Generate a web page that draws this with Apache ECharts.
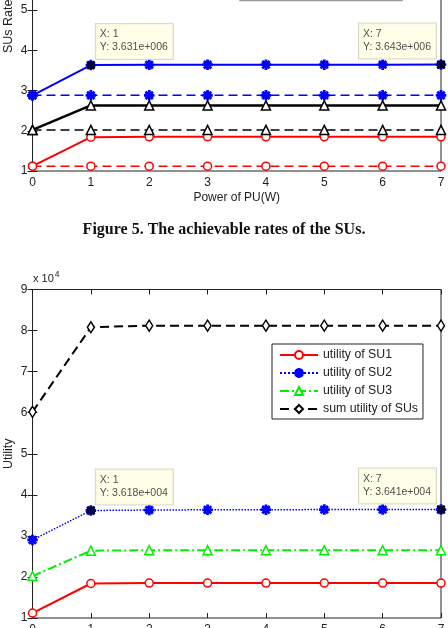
<!DOCTYPE html>
<html>
<head>
<meta charset="utf-8">
<script src="https://cdn.jsdelivr.net/npm/echarts@6/dist/echarts.min.js"></script>
<style>
html, body { margin: 0; padding: 0; background: #fff; }
#main { width: 448px; height: 628px; }
</style>
</head>
<body>
<div id="main"></div>
<script>
var powerPU = [0, 1, 2, 3, 4, 5, 6, 7];

// Figure 5: rates (x 10^6)
var rateSU1 = [1.12, 1.84, 1.85, 1.85, 1.85, 1.85, 1.85, 1.85];
var rateSU1Eq = [1.12, 1.12, 1.12, 1.12, 1.12, 1.12, 1.12, 1.12];
var rateSU2 = [2.88, 3.631, 3.638, 3.640, 3.641, 3.642, 3.642, 3.643];
var rateSU2Eq = [2.88, 2.88, 2.88, 2.88, 2.88, 2.88, 2.88, 2.88];
var rateSU3 = [2.02, 2.63, 2.63, 2.63, 2.63, 2.63, 2.63, 2.63];
var rateSU3Eq = [2.02, 2.02, 2.02, 2.02, 2.02, 2.02, 2.02, 2.02];

// Figure 6: utility (x 10^4)
var utilNames = ['utility of SU1', 'utility of SU2', 'utility of SU3', 'sum utility of SUs'];
var utilSU1 = [1.12, 1.84, 1.85, 1.85, 1.85, 1.85, 1.85, 1.85];
var utilSU2 = [2.90, 3.618, 3.630, 3.635, 3.638, 3.640, 3.640, 3.641];
var utilSU3 = [2.02, 2.64, 2.65, 2.65, 2.65, 2.65, 2.65, 2.65];
var utilSum = [6.02, 8.08, 8.12, 8.12, 8.12, 8.12, 8.12, 8.12];

// data tips (x positions)
var tipX = [1, 7];

var starPath = 'path://M0,4.3L10,4.3L10,5.7L0,5.7Z M4.3,0L5.7,0L5.7,10L4.3,10Z M1,2L2,1L9,8L8,9Z M8,1L9,2L2,9L1,8Z';
var font = '"Liberation Sans", Arial, sans-serif';
var ink = '#222';

function pairs(ys) {
    return powerPU.map(function (x, i) { return [x, ys[i]]; });
}

function fmtTip(v, e) {
    return v.toFixed(3) + 'e+' + ('00' + e).slice(-3);
}

function tipData(ys) {
    return tipX.map(function (x, i) {
        return {
            value: [x, ys[powerPU.indexOf(x)]],
            label: { position: i === 0 ? [9, -37] : [-78, -37] }
        };
    });
}

function xAx(grid, pos, labels) {
    return {
        type: 'value', gridIndex: grid, position: pos, min: 0, max: 7, interval: 1,
        axisLine: { show: false },
        axisTick: { show: true, inside: true, length: 5, lineStyle: { color: ink } },
        axisLabel: { show: labels, color: ink, fontSize: 12, fontFamily: font, margin: 6 },
        splitLine: { show: false }
    };
}

function yAx(grid, pos, labels) {
    return {
        type: 'value', gridIndex: grid, position: pos, min: 1, max: 9, interval: 1,
        axisLine: { show: false },
        axisTick: { show: true, inside: true, length: 5, lineStyle: { color: ink } },
        axisLabel: { show: labels, color: ink, fontSize: 12, fontFamily: font, margin: 5 },
        splitLine: { show: false }
    };
}

function lineSeries(name, ys, xi, yi, color, width, type, symbol, size, fill) {
    return {
        name: name,
        type: 'line',
        xAxisIndex: xi,
        yAxisIndex: yi,
        data: pairs(ys),
        symbol: symbol,
        symbolSize: size,
        showSymbol: true,
        lineStyle: { color: color, width: width, type: type },
        itemStyle: { color: fill, borderColor: color, borderWidth: 1.5 },
        emphasis: { disabled: true },
        animation: false
    };
}

function tipSeries(ys, xi, yi, e) {
    return {
        type: 'scatter',
        xAxisIndex: xi,
        yAxisIndex: yi,
        symbol: 'rect',
        symbolSize: 8,
        z: 10,
        itemStyle: { color: '#000' },
        data: tipData(ys),
        label: {
            show: true,
            formatter: function (p) {
                return 'X: ' + p.value[0] + '\nY: ' + fmtTip(p.value[1], e);
            },
            color: ink,
            fontSize: 10.5,
            lineHeight: 13,
            fontFamily: font,
            backgroundColor: '#ffffe3',
            borderColor: '#cfcfb8',
            borderWidth: 1,
            padding: [4, 5, 5, 4]
        },
        emphasis: { disabled: true },
        animation: false
    };
}

var myChart = echarts.init(document.getElementById('main'));

option = {
    backgroundColor: '#fff',
    animation: false,
    grid: [
        { left: 32.5, right: 7, top: -151, height: 322, show: true, borderColor: ink, borderWidth: 1, outerBoundsMode: 'none' },
        { left: 32.5, right: 7, top: 289.5, height: 328.5, show: true, borderColor: ink, borderWidth: 1, outerBoundsMode: 'none' }
    ],
    xAxis: [
        Object.assign(xAx(0, 'bottom', true), {
            name: 'Power of PU(W)', nameLocation: 'middle', nameGap: 21, nameMoveOverlap: false,
            nameTextStyle: { color: ink, fontSize: 12, fontFamily: font }
        }),
        xAx(0, 'top', false),
        xAx(1, 'bottom', true),
        xAx(1, 'top', false)
    ],
    yAxis: [
        yAx(0, 'left', true),
        yAx(0, 'right', false),
        Object.assign(yAx(1, 'left', true), {
            name: 'Utility', nameLocation: 'middle', nameGap: 17, nameMoveOverlap: false,
            nameTextStyle: { color: ink, fontSize: 12.5, fontFamily: font }
        }),
        yAx(1, 'right', false)
    ],
    legend: {
        data: utilNames,
        orient: 'vertical',
        left: 272,
        top: 344,
        itemWidth: 38,
        itemHeight: 10,
        itemGap: 4,
        padding: [4, 5, 3, 7],
        backgroundColor: '#fff',
        borderColor: ink,
        borderWidth: 1,
        selectedMode: false,
        textStyle: { color: ink, fontSize: 12.3, lineHeight: 14, fontFamily: font }
    },
    graphic: [
        {
            type: 'rect', silent: true,
            shape: { x: 240, y: -60, width: 162, height: 60.5 },
            style: { fill: '#fff', stroke: '#999', lineWidth: 1.5 }
        },
        {
            type: 'text', silent: true, x: 8.5, y: 53, rotation: Math.PI / 2,
            style: { text: 'SUs Rate', fill: ink, font: '12.5px ' + font, textAlign: 'left', textVerticalAlign: 'middle' }
        },
        {
            type: 'text', silent: true, x: 224, y: 230,
            style: {
                text: 'Figure 5. The achievable rates of the SUs.',
                fill: '#111', font: 'bold 16px "Liberation Serif", "Times New Roman", serif',
                textAlign: 'center', textVerticalAlign: 'middle'
            }
        },
        {
            type: 'text', silent: true, x: 33, y: 279,
            style: {
                text: '{a|x 10}{b|4}',
                textVerticalAlign: 'middle',
                rich: {
                    a: { fill: ink, fontSize: 11, fontFamily: font },
                    b: { fill: ink, fontSize: 8.5, fontFamily: font, verticalAlign: 'top', padding: [0, 0, 8, 1] }
                }
            }
        }
    ],
    series: [
        // Figure 5
        lineSeries('rate SU1', rateSU1, 0, 0, '#ff0000', 2, 'solid', 'circle', 8, '#fff'),
        lineSeries('rate SU1 eq', rateSU1Eq, 0, 0, '#ff0000', 1.5, [9, 5], 'circle', 8, '#fff'),
        lineSeries('rate SU2', rateSU2, 0, 0, '#0000ff', 2, 'solid', starPath, 9, '#0000ff'),
        lineSeries('rate SU2 eq', rateSU2Eq, 0, 0, '#0000ff', 1.5, [9, 5], starPath, 9, '#0000ff'),
        lineSeries('rate SU3', rateSU3, 0, 0, '#000000', 2.5, 'solid', 'triangle', 9, '#fff'),
        lineSeries('rate SU3 eq', rateSU3Eq, 0, 0, '#000000', 1.5, [9, 5], 'triangle', 9, '#fff'),
        tipSeries(rateSU2, 0, 0, 6),
        // Figure 6
        lineSeries(utilNames[0], utilSU1, 2, 2, '#ff0000', 2, 'solid', 'circle', 8, '#fff'),
        lineSeries(utilNames[1], utilSU2, 2, 2, '#0000ff', 1.5, 'dotted', starPath, 9, '#0000ff'),
        lineSeries(utilNames[2], utilSU3, 2, 2, '#00ee00', 2, [9, 3, 2, 3], 'triangle', 9, '#fff'),
        lineSeries(utilNames[3], utilSum, 2, 2, '#000000', 2, [9, 5], 'diamond', [7, 11], '#fff'),
        tipSeries(utilSU2, 2, 2, 4)
    ]
};

myChart.setOption(option);
</script>
</body>
</html>
